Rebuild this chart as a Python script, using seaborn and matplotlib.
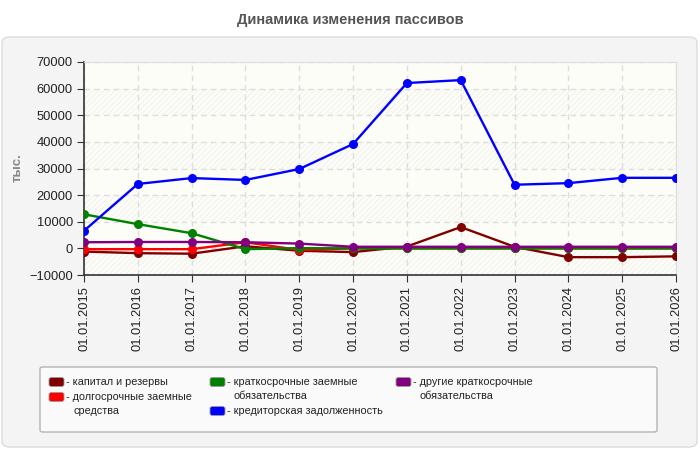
import numpy as np
import pandas as pd
import seaborn as sns
import matplotlib.pyplot as plt
from matplotlib import font_manager
from matplotlib.patches import FancyBboxPatch

# данные (тыс.)
dates = ['01.01.2015', '01.01.2016', '01.01.2017', '01.01.2018', '01.01.2019', '01.01.2020',
         '01.01.2021', '01.01.2022', '01.01.2023', '01.01.2024', '01.01.2025', '01.01.2026']
capital = [-1200, -1800, -2000, 800, -900, -1400, 700, 8000, 600, -3300, -3300, -3000]
long_loans = [-300, -300, -300, 2300, -600, 0, 0, 0, 0, 0, 0, 0]
short_loans = [12800, 9100, 5700, -300, 100, 0, 0, 0, 0, 0, 0, 0]
other_short = [2300, 2400, 2400, 2300, 1800, 600, 600, 600, 600, 600, 600, 600]
payables = [6600, 24200, 26400, 25700, 29800, 39200, 62100, 63200, 23900, 24500, 26500, 26500]

series_names = ['капитал и резервы', 'долгосрочные заемные\nсредства',
                'краткосрочные заемные\nобязательства', 'кредиторская задолженность',
                'другие краткосрочные\nобязательства']
series_values = [capital, long_loans, short_loans, payables, other_short]
colors = ['#800000', '#ff0000', '#008000', '#0000ff', '#800080']

rows = []
for name, vals in zip(series_names, series_values):
    for i, v in enumerate(vals):
        rows.append({'x': i, 'value': v, 'series': name})
df = pd.DataFrame(rows)

sns.set_style('white')
plt.rcParams['font.family'] = ['Liberation Sans', 'DejaVu Sans']
plt.rcParams['hatch.linewidth'] = 0.6

# узкий шрифт для легенды, если есть
installed = {f.name for f in font_manager.fontManager.ttflist}
if 'Liberation Sans Narrow' in installed:
    leg_font, leg_size = 'Liberation Sans Narrow', 9.3
elif 'DejaVu Sans Condensed' in installed:
    leg_font, leg_size = 'DejaVu Sans Condensed', 8.3
else:
    leg_font, leg_size = 'Liberation Sans', 7.8

W, H = 700, 450
fig = plt.figure(figsize=(7, 4.5), dpi=100)
fig.patch.set_facecolor('white')


def fbox(x0, y0, x1, y1, **kw):
    # прямоугольник в пикселях от верхнего левого угла
    return FancyBboxPatch((x0 / W, 1 - y1 / H), (x1 - x0) / W, (y1 - y0) / H,
                          transform=fig.transFigure, **kw)


# серая панель
fig.patches.append(fbox(2, 37, 697, 447, boxstyle='round,pad=0,rounding_size=0.012',
                        facecolor='#f4f4f4', edgecolor='#dcdcdc', linewidth=1, zorder=-5))
# рамка легенды
fig.patches.append(fbox(40, 367, 657, 432, boxstyle='round,pad=0,rounding_size=0.004',
                        facecolor='#fafafa', edgecolor='#b4b4b4', linewidth=1, zorder=-5))

ax = fig.add_axes([84 / W, 1 - 275 / H, 592 / W, 213 / H])
ax.set_facecolor('#fdfdf8')

# полосы фона со штриховкой
for lo in range(-10000, 70000, 20000):
    ax.axhspan(lo, lo + 10000, facecolor='none', edgecolor='#eeeeee',
               hatch='//////', linewidth=0, zorder=0)

draw_order = [series_names[i] for i in [0, 1, 2, 4, 3]]
palette = dict(zip(series_names, colors))
sns.lineplot(data=df, x='x', y='value', hue='series', hue_order=draw_order,
             palette=palette, marker='o', markersize=6.5, markeredgewidth=0,
             linewidth=1.7, legend=False, ax=ax, zorder=3)

ax.set_xlim(0, len(dates) - 1)
ax.set_ylim(-10000, 70000)
ax.set_yticks(np.arange(-10000, 70001, 10000))
ax.set_xticks(range(len(dates)))
ax.set_xticklabels(dates, rotation=90, fontsize=9.3, color='#222222')
ax.tick_params(axis='y', labelsize=9.3, labelcolor='#222222', length=5,
               direction='out', color='#333333', left=True, pad=3)
ax.tick_params(axis='x', length=5, direction='out', color='#333333', bottom=True, pad=3)
ax.grid(True, linestyle=(0, (4, 3)), color='#dddddd', linewidth=1)
ax.set_axisbelow(True)
ax.set_xlabel('')
ax.set_ylabel('')

for side in ['top', 'right']:
    ax.spines[side].set_color('#dddddd')
for side in ['left', 'bottom']:
    ax.spines[side].set_color('#333333')
    ax.spines[side].set_linewidth(1.2)

fig.text(18 / W, 1 - 168 / H, 'тыс.', rotation=90, ha='center', va='center',
         fontsize=9.5, fontweight='bold', color='#888888')
fig.text(0.5, 1 - 20 / H, 'Динамика изменения пассивов', ha='center', va='center',
         fontsize=10.5, fontweight='bold', color='#555555')

# легенда: (колонка x, строка y) для каждой серии
leg_pos = [(49, 382), (49, 397), (210, 382), (210, 411), (396, 382)]
for name, c, (lx, ly) in zip(series_names, colors, leg_pos):
    fig.patches.append(fbox(lx, ly - 4.5, lx + 15, ly + 4.5,
                            boxstyle='round,pad=0,rounding_size=0.004',
                            facecolor=c, edgecolor='#999999', linewidth=0.6))
    first, *rest = name.split('\n')
    fig.text((lx + 17) / W, 1 - ly / H, '- ' + first, ha='left', va='center',
             fontsize=leg_size, family=leg_font, color='#222222')
    for k, line in enumerate(rest):
        fig.text((lx + 24) / W, 1 - (ly + 14 * (k + 1)) / H, line, ha='left', va='center',
                 fontsize=leg_size, family=leg_font, color='#222222')

plt.savefig('out.png', dpi=100)
